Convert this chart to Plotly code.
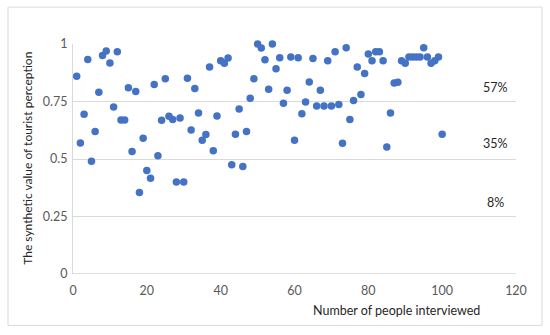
import plotly.graph_objects as go

# Data
people = list(range(1, 101))
perception = [
    0.86, 0.57, 0.695, 0.933, 0.49, 0.62, 0.79, 0.95, 0.97, 0.917,
    0.726, 0.966, 0.67, 0.67, 0.81, 0.533, 0.793, 0.354, 0.59, 0.45,
    0.416, 0.824, 0.514, 0.668, 0.849, 0.686, 0.672, 0.40, 0.678, 0.40,
    0.851, 0.626, 0.806, 0.70, 0.581, 0.606, 0.90, 0.536, 0.687, 0.927,
    0.916, 0.939, 0.475, 0.608, 0.717, 0.467, 0.62, 0.764, 0.849, 1.0,
    0.983, 0.932, 0.803, 1.0, 0.892, 0.94, 0.742, 0.799, 0.943, 0.581,
    0.94, 0.697, 0.748, 0.835, 0.937, 0.73, 0.799, 0.73, 0.927, 0.73,
    0.966, 0.737, 0.569, 0.984, 0.672, 0.754, 0.90, 0.78, 0.872, 0.956,
    0.927, 0.966, 0.966, 0.927, 0.552, 0.70, 0.83, 0.834, 0.927, 0.916,
    0.943, 0.943, 0.943, 0.943, 0.984, 0.943, 0.916, 0.927, 0.943, 0.608,
]
share_labels = ["57%", "35%", "8%"]
share_y = [0.81, 0.566, 0.309]
x_ticks = [0, 20, 40, 60, 80, 100, 120]
y_ticks = [0, 0.25, 0.5, 0.75, 1]

FONT = "Lato, 'Open Sans', sans-serif"

fig = go.Figure()
fig.add_trace(go.Scatter(
    x=people, y=perception, mode="markers",
    marker=dict(color="#4472C4", size=7.5, line=dict(width=0)),
    cliponaxis=False, showlegend=False, hoverinfo="skip",
))

L, R, T, B = 73, 34, 44, 60.5
W, H = 550, 335
pw, ph = W - L - R, H - T - B

def px(xp):
    return (xp - L) / pw

def py(yp):
    return (H - B - yp) / ph

fig.update_layout(
    width=W, height=H,
    margin=dict(l=L, r=R, t=T, b=B, pad=0),
    paper_bgcolor="white", plot_bgcolor="white",
    font=dict(family=FONT, size=12, color="#595959"),
    xaxis=dict(
        range=[0, 120], tickvals=x_ticks, showgrid=False, zeroline=False,
        showline=False, ticks="", ticklabelstandoff=7,
        tickfont=dict(size=12.5, color="#595959"),
    ),
    yaxis=dict(
        range=[0, 1], tickvals=y_ticks, ticktext=["0", "0.25", "0.5", "0.75", "1"],
        showgrid=True, gridcolor="#d9d9d9", gridwidth=1, zeroline=False,
        showline=True, linecolor="#d9d9d9", linewidth=1, ticks="",
        ticklabelstandoff=2, tickfont=dict(size=12.5, color="#595959"),
    ),
    shapes=[
        dict(type="line", xref="paper", yref="y", x0=0, x1=1, y0=0, y1=0,
             line=dict(color="#bfbfbf", width=1), layer="above"),
        dict(type="rect", xref="paper", yref="paper",
             x0=px(8), x1=px(542), y0=py(326), y1=py(7),
             line=dict(color="#d9d9d9", width=1), layer="above"),
    ],
)

for lab, yv in zip(share_labels, share_y):
    fig.add_annotation(x=114.4, y=yv, xref="x", yref="y", text=lab,
                       xanchor="center", yanchor="middle",
                       showarrow=False, font=dict(size=12.5, color="#262626"))

fig.add_annotation(x=px(396), y=py(311), xref="paper", yref="paper",
                   xanchor="center", yanchor="middle",
                   text="Number of people interviewed", showarrow=False,
                   font=dict(size=12.5, color="#262626"))
fig.add_annotation(x=px(28), y=py(159), xref="paper", yref="paper",
                   xanchor="center", yanchor="middle",
                   text="The synthetic value of tourist perception", textangle=-90,
                   showarrow=False, font=dict(size=12, color="#262626"))

fig.write_html("out.html", config={"displayModeBar": False},
               post_script="document.body.style.margin='0px';")
